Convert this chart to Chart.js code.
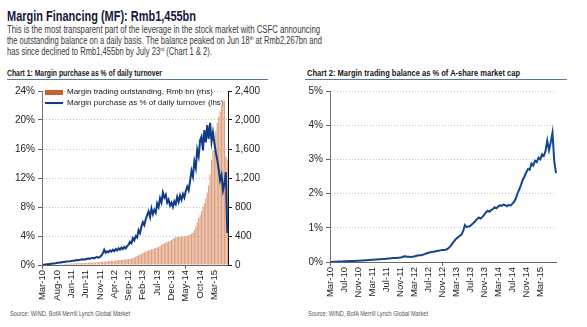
<!DOCTYPE html>
<html lang="en">
<head>
<meta charset="UTF-8">
<title>Margin Financing (MF)</title>
<script src="https://cdn.jsdelivr.net/npm/chart.js@4.4.0/dist/chart.umd.min.js"></script>
<style>
  body { margin: 0; width: 587px; height: 327px; background: #fff; position: relative; overflow: hidden;
         font-family: "Liberation Sans", Arial, sans-serif; }
  .fit { position: absolute; white-space: nowrap; transform-origin: 0 0; }
  .heading { left: 7px; top: 8px; font-size: 14px; line-height: 16px; font-weight: bold; color: #16183c; }
  .body-line { left: 7px; font-size: 10px; line-height: 11px; color: #383838; }
  .body-line sup { font-size: 6px; line-height: 0; vertical-align: 4px; }
  .chart-title { top: 68px; font-size: 9px; line-height: 10px; font-weight: bold; color: #151515; }
  .rule { position: absolute; top: 79px; height: 1px; background: #5878aa; }
  .source { top: 310px; font-size: 7px; line-height: 8px; color: #555; }
  canvas { position: absolute; top: 82px; }
</style>
</head>
<body>
  <div class="fit heading" data-w="189">Margin Financing (MF): Rmb1,455bn</div>
  <div class="fit body-line" style="top:24px" data-w="313">This is the most transparent part of the leverage in the stock market with CSFC announcing</div>
  <div class="fit body-line" style="top:35px" data-w="315">the outstanding balance on a daily basis. The balance peaked on Jun 18<sup>th</sup> at Rmb2,267bn and</div>
  <div class="fit body-line" style="top:46px" data-w="205">has since declined to Rmb1,455bn by July 23<sup>rd</sup> (Chart 1 &amp; 2).</div>

  <div class="fit chart-title" style="left:7px" data-w="155">Chart 1: Margin purchase as % of daily turnover</div>
  <div class="rule" style="left:7px; width:261px"></div>
  <div class="fit chart-title" style="left:307px" data-w="213">Chart 2: Margin trading balance as % of A-share market cap</div>
  <div class="rule" style="left:305px; width:262px"></div>

  <canvas id="turnoverChart" width="290" height="222" style="left:0"></canvas>
  <canvas id="capChart" width="297" height="222" style="left:290px"></canvas>

  <div class="fit source" style="left:10px" data-w="120">Source: WIND, BofA Merrill Lynch Global Market</div>
  <div class="fit source" style="left:308px" data-w="120">Source: WIND, BofA Merrill Lynch Global Market</div>

<script>
// Half-monthly readings, first half of Mar-10 through second half of Jul-15

// Margin purchase as % of daily turnover (lhs, %)
const turnoverPct = [
  0.0, 0.05, 0.08, 0.1, 0.12, 0.15, 0.18, 0.2, 0.22, 0.25,
  0.3, 0.32, 0.35, 0.36, 0.4, 0.42, 0.45, 0.48, 0.5, 0.52,
  0.55, 0.6, 0.58, 0.65, 0.7, 0.66, 0.72, 0.75, 0.78, 0.74,
  0.8, 0.86, 0.9, 0.85, 0.95, 1.0, 0.92, 1.05, 1.1, 1.0,
  1.1, 1.3, 1.6, 2.1, 1.7, 1.9, 1.75, 2.0, 1.85, 2.1,
  1.9, 2.2, 2.0, 2.3, 2.1, 2.4, 2.2, 2.5, 2.3, 2.6,
  2.8, 3.2, 3.0, 3.7, 3.4, 4.0, 3.8, 4.8, 4.4, 5.3,
  5.9, 5.5, 6.3, 6.9, 7.4, 6.6, 7.8, 7.0, 7.6, 7.2,
  8.5, 8.0, 9.2, 8.6, 10.0, 9.3, 9.7, 8.6, 9.0, 8.2,
  8.6, 8.0, 8.8, 8.4, 9.4, 8.7, 9.6, 9.0, 9.8, 9.3,
  10.2, 10.8, 10.3, 11.6, 13.0, 12.2, 14.3, 13.4, 15.9, 15.0,
  17.2, 17.7, 15.8, 18.6, 16.9, 19.3, 17.4, 19.6, 17.0, 18.3,
  16.8, 15.5, 14.5, 13.2, 11.7, 12.4, 10.3, 11.2, 12.8, 4.4
];

// Margin trading outstanding (rhs, Rmb bn)
const marginBalance = [
  0.5, 1, 1.5, 2, 3, 3.5, 4, 5, 6, 7,
  8, 9, 10, 11, 12, 13, 14, 15, 16, 18,
  20, 21, 22, 23, 24, 25, 26, 27, 28, 29,
  30, 31, 32, 33, 34, 35, 35, 36, 37, 38,
  40, 42, 44, 46, 48, 50, 52, 54, 56, 58,
  60, 62, 64, 66, 68, 70, 72, 74, 76, 78,
  80, 85, 90, 96, 105, 115, 125, 135, 145, 155,
  165, 175, 185, 195, 200, 210, 215, 220, 228, 235,
  240, 250, 262, 275, 290, 300, 310, 318, 325, 335,
  345, 360, 375, 380, 385, 388, 390, 392, 395, 398,
  400, 405, 410, 418, 430, 445, 480, 530, 590, 650,
  690, 740, 800, 850, 920, 1000, 1100, 1250, 1450, 1580,
  1700, 1850, 1960, 2050, 2120, 2200, 2250, 2267, 1500, 1455
];

// Margin trading balance as % of A-share market cap
const capPct = [
  0.0, 0.0, 0.005, 0.007, 0.01, 0.012, 0.015, 0.017, 0.02, 0.022,
  0.024, 0.026, 0.028, 0.03, 0.032, 0.035, 0.038, 0.04, 0.043, 0.046,
  0.05, 0.053, 0.056, 0.06, 0.064, 0.068, 0.072, 0.075, 0.078, 0.082,
  0.086, 0.09, 0.094, 0.1, 0.105, 0.11, 0.115, 0.118, 0.12, 0.125,
  0.13, 0.14, 0.16, 0.17, 0.155, 0.15, 0.145, 0.155, 0.16, 0.175,
  0.19, 0.2, 0.195, 0.21, 0.23, 0.25, 0.27, 0.28, 0.29, 0.3,
  0.31, 0.32, 0.33, 0.34, 0.35, 0.35, 0.36, 0.38, 0.42, 0.48,
  0.55, 0.62, 0.68, 0.72, 0.76, 0.8, 0.9, 1.08, 1.02, 1.04,
  1.05, 1.1, 1.15, 1.2, 1.26, 1.3, 1.27, 1.32, 1.38, 1.45,
  1.5, 1.47, 1.52, 1.55, 1.6, 1.57, 1.62, 1.66, 1.64, 1.68,
  1.66, 1.63, 1.67, 1.65, 1.7, 1.76, 1.85, 2.0, 2.12, 2.25,
  2.4, 2.5, 2.62, 2.72, 2.7, 2.88, 2.82, 2.96, 2.92, 3.05,
  3.0, 3.15, 3.1, 3.24, 3.55, 3.27, 3.5, 3.78, 2.95, 2.6
];

const ticks1 = ['Mar-10', 'Aug-10', 'Jan-11', 'Jun-11', 'Nov-11', 'Apr-12', 'Sep-12',
                'Feb-13', 'Jul-13', 'Dec-13', 'May-14', 'Oct-14', 'Mar-15'];
const ticks2 = ['Mar-10', 'Jul-10', 'Nov-10', 'Mar-11', 'Jul-11', 'Nov-11', 'Mar-12', 'Jul-12',
                'Nov-12', 'Mar-13', 'Jul-13', 'Nov-13', 'Mar-14', 'Jul-14', 'Nov-14', 'Mar-15'];

const MONTHS = ['Jan', 'Feb', 'Mar', 'Apr', 'May', 'Jun', 'Jul', 'Aug', 'Sep', 'Oct', 'Nov', 'Dec'];

// category per half month; the first half carries the plain "Mon-yy" name
const periods = turnoverPct.map((_, i) => {
  const m = 2 + Math.floor(i / 2);
  const name = MONTHS[m % 12] + '-' + (10 + Math.floor(m / 12));
  return i % 2 === 0 ? name : name + ' 2H';
});

// squeeze condensed-looking text blocks to their widths
document.querySelectorAll('.fit').forEach(el => {
  const w = el.getBoundingClientRect().width;
  el.style.transform = 'scaleX(' + (el.dataset.w / w) + ')';
});

Chart.defaults.font.family = '"Liberation Sans", Arial, sans-serif';
Chart.defaults.color = '#222';

const NAVY = '#0e3c85';
const BAR = '#df9f7d';

// legend swatch for the bars
const swatch = document.createElement('canvas');
swatch.width = 18;
swatch.height = 5;
const sctx = swatch.getContext('2d');
sctx.fillStyle = '#c8612f';
sctx.fillRect(0, 0, 18, 5);

function monthTick(list) {
  return function (value) {
    const lbl = this.getLabelForValue(value);
    return list.includes(lbl) ? lbl : null;
  };
}

// tick marks only under the labelled months
function monthTickColor(list) {
  return c => (c.tick && list.includes(periods[c.index]) ? '#666' : 'rgba(0,0,0,0)');
}

new Chart(document.getElementById('turnoverChart'), {
  type: 'bar',
  data: {
    labels: periods,
    datasets: [{
      label: 'Margin trading outstanding, Rmb bn (rhs)',
      data: marginBalance,
      yAxisID: 'y1',
      backgroundColor: BAR,
      barPercentage: 0.8,
      categoryPercentage: 1,
      order: 1
    }, {
      type: 'line',
      label: 'Margin purchase as % of daily turnover (lhs)',
      data: turnoverPct,
      yAxisID: 'y',
      borderColor: NAVY,
      backgroundColor: NAVY,
      borderWidth: 2,
      pointRadius: 0,
      tension: 0,
      order: 0
    }]
  },
  options: {
    responsive: false,
    animation: false,
    events: [],
    layout: { padding: { top: 9, right: 0, left: 0, bottom: 0 } },
    plugins: {
      tooltip: { enabled: false },
      legend: {
        position: 'chartArea',
        align: 'start',
        title: { display: true, text: '', padding: 0, font: { size: 3, lineHeight: 1 } },
        labels: {
          usePointStyle: true,
          pointStyleWidth: 18,
          boxHeight: 5,
          padding: 3,
          color: '#222',
          font: { size: 8 },
          sort: (a, b) => a.datasetIndex - b.datasetIndex,
          generateLabels(chart) {
            const items = Chart.defaults.plugins.legend.labels.generateLabels(chart);
            items.forEach(it => {
              if (it.datasetIndex === 0) {
                it.pointStyle = swatch;
              } else {
                it.pointStyle = 'line';
                it.lineWidth = 2;
                it.strokeStyle = NAVY;
              }
            });
            return items;
          }
        }
      }
    },
    scales: {
      x: {
        grid: { drawOnChartArea: false, offset: false, tickLength: 4, tickColor: monthTickColor(ticks1) },
        border: { color: '#666' },
        ticks: { autoSkip: false, maxRotation: 90, minRotation: 90, padding: 1,
                 font: { size: 9.5 }, callback: monthTick(ticks1) },
        afterFit: s => { s.height = 39; }
      },
      y: {
        position: 'left',
        min: 0, max: 24,
        grid: { color: '#c4c4c4', tickColor: '#666', tickLength: 4, tickBorderDash: [] },
        border: { color: '#777', dash: [1, 2] },
        ticks: { stepSize: 4, padding: 3, font: { size: 10 }, callback: v => v + '%' },
        afterFit: s => { s.width = 42; }
      },
      y1: {
        position: 'right',
        min: 0, max: 2400,
        grid: { drawOnChartArea: false, tickColor: '#111', tickLength: 4 },
        border: { color: '#111' },
        ticks: { stepSize: 400, padding: 3, font: { size: 10 }, callback: v => v.toLocaleString('en-US') },
        afterFit: s => { s.width = 62; }
      }
    }
  }
});

new Chart(document.getElementById('capChart'), {
  type: 'line',
  data: {
    labels: periods,
    datasets: [{
      label: 'Margin trading balance as % of A-share market cap',
      data: capPct,
      borderColor: '#134690',
      borderWidth: 2,
      pointRadius: 0,
      tension: 0
    }]
  },
  options: {
    responsive: false,
    animation: false,
    events: [],
    layout: { padding: { top: 9, right: 31, left: 0, bottom: 0 } },
    plugins: { legend: { display: false }, tooltip: { enabled: false } },
    scales: {
      x: {
        offset: false,
        grid: { drawOnChartArea: false, tickLength: 4, tickColor: monthTickColor(ticks2) },
        border: { color: '#666' },
        ticks: { autoSkip: false, maxRotation: 90, minRotation: 90, padding: 1,
                 font: { size: 9.5 }, callback: monthTick(ticks2) },
        afterFit: s => { s.height = 42; }
      },
      y: {
        min: 0, max: 5,
        grid: { color: '#c4c4c4', tickColor: '#666', tickLength: 4, tickBorderDash: [] },
        border: { color: '#777', dash: [1, 2] },
        ticks: { stepSize: 1, padding: 3, font: { size: 10 }, callback: v => v + '%' },
        afterFit: s => { s.width = 40; }
      }
    }
  }
});
</script>
</body>
</html>
